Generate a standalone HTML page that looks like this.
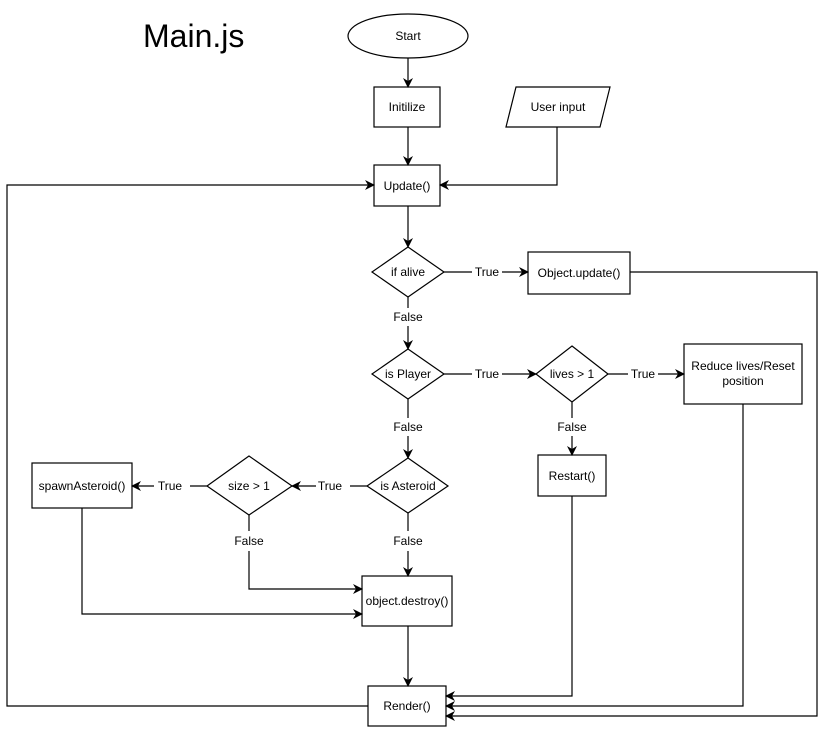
<!DOCTYPE html>
<html><head><style>
html,body{margin:0;padding:0;background:#fff;}
svg text{font-family:"Liberation Sans",Arial,sans-serif;font-size:12px;fill:#000;}
</style></head><body>
<svg width="835" height="739" viewBox="0 0 835 739" xmlns="http://www.w3.org/2000/svg">
<defs>
<marker id="a" markerWidth="10" markerHeight="10" refX="9" refY="5" orient="auto" markerUnits="userSpaceOnUse">
<path d="M0,0 L10,5 L0,10 L3,5 Z" fill="#000"/>
</marker>
</defs>
<g fill="none" stroke="#000" stroke-width="1.2">
<!-- shapes -->
<ellipse cx="408" cy="36" rx="60" ry="22" fill="#fff"/>
<rect x="374" y="87" width="66" height="40" fill="#fff"/>
<polygon points="516,87 610,87 600,127 506,127" fill="#fff"/>
<rect x="374" y="165" width="66" height="41" fill="#fff"/>
<polygon points="408,247 444,272 408,297 372,272" fill="#fff"/>
<rect x="528" y="252" width="102" height="42" fill="#fff"/>
<polygon points="408,349 444,374 408,399 372,374" fill="#fff"/>
<polygon points="572,346 608,374 572,402 536,374" fill="#fff"/>
<rect x="684" y="344" width="118" height="60" fill="#fff"/>
<rect x="538" y="455" width="68" height="41" fill="#fff"/>
<polygon points="408,458 448,486 408,513 367,486" fill="#fff"/>
<polygon points="249,456 292,486 249,515 207,486" fill="#fff"/>
<rect x="32" y="463" width="100" height="45" fill="#fff"/>
<rect x="362" y="576" width="90" height="50" fill="#fff"/>
<rect x="368" y="686" width="78" height="40" fill="#fff"/>
<!-- connectors -->
<path d="M408,58 V87" marker-end="url(#a)"/>
<path d="M408,127 V165" marker-end="url(#a)"/>
<path d="M557,127 V185 H440" marker-end="url(#a)"/>
<path d="M408,206 V247" marker-end="url(#a)"/>
<path d="M444,272 H472 M502,272 H528" marker-end="url(#a)"/>
<path d="M630,272 H817 V716 H446" marker-end="url(#a)"/>
<path d="M408,297 V308 M408,326 V349" marker-end="url(#a)"/>
<path d="M444,374 H472 M502,374 H536" marker-end="url(#a)"/>
<path d="M608,374 H628 M658,374 H684" marker-end="url(#a)"/>
<path d="M572,402 V418 M572,436 V455" marker-end="url(#a)"/>
<path d="M743,404 V706 H446" marker-end="url(#a)"/>
<path d="M572,496 V696 H446" marker-end="url(#a)"/>
<path d="M408,399 V418 M408,436 V458" marker-end="url(#a)"/>
<path d="M367,486 H350 M316,486 H292" marker-end="url(#a)"/>
<path d="M207,486 H190 M154,486 H132" marker-end="url(#a)"/>
<path d="M249,515 V531 M249,551 V589 H362" marker-end="url(#a)"/>
<path d="M408,513 V531 M408,551 V576" marker-end="url(#a)"/>
<path d="M82,508 V614 H362" marker-end="url(#a)"/>
<path d="M408,626 V686" marker-end="url(#a)"/>
<path d="M368,706 H7 V185 H374" marker-end="url(#a)"/>
</g>
<text x="143" y="47" style="font-size:32px">Main.js</text>
<g text-anchor="middle">
<text x="408" y="40">Start</text>
<text x="407" y="111">Initilize</text>
<text x="558" y="111">User input</text>
<text x="407" y="190">Update()</text>
<text x="408" y="276">if alive</text>
<text x="487" y="276">True</text>
<text x="579" y="277">Object.update()</text>
<text x="408" y="321">False</text>
<text x="408" y="378">is Player</text>
<text x="487" y="378">True</text>
<text x="572" y="378">lives &gt; 1</text>
<text x="643" y="378">True</text>
<text x="743" y="370">Reduce lives/Reset</text>
<text x="743" y="385">position</text>
<text x="572" y="431">False</text>
<text x="408" y="431">False</text>
<text x="572" y="480">Restart()</text>
<text x="408" y="490">is Asteroid</text>
<text x="330" y="490">True</text>
<text x="249" y="490">size &gt; 1</text>
<text x="170" y="490">True</text>
<text x="82" y="490">spawnAsteroid()</text>
<text x="249" y="545">False</text>
<text x="408" y="545">False</text>
<text x="407" y="605">object.destroy()</text>
<text x="407" y="710">Render()</text>
</g>
</svg>
</body></html>
